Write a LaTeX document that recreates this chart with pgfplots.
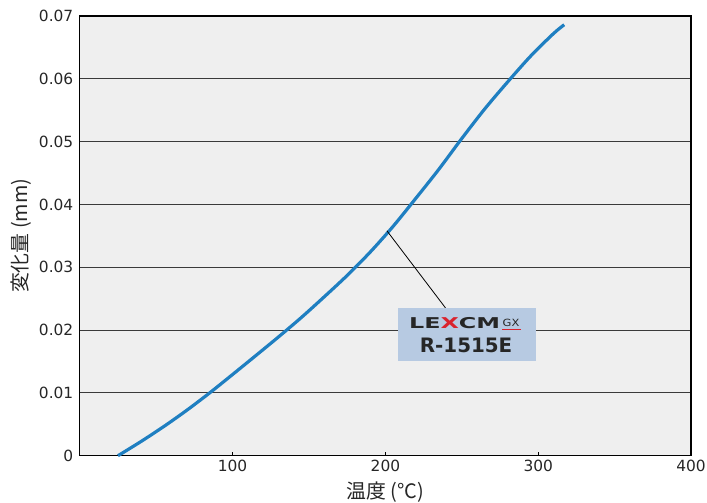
\documentclass[border=0pt]{standalone}
\usepackage{fontspec}
\setmainfont{Noto Sans CJK JP}
\newfontfamily\logofont{DejaVu Sans}
\usepackage{pgfplots}
\pgfplotsset{compat=1.18}
\definecolor{bg}{HTML}{EFEFEF}
\definecolor{curve}{HTML}{1F7FC1}
\definecolor{boxc}{HTML}{B7CAE2}
\definecolor{logored}{HTML}{D9232E}
\definecolor{gridc}{HTML}{3A3A3A}
\begin{document}
\begin{tikzpicture}
\useasboundingbox (-80bp,-47bp) rectangle (629bp,457bp);
\begin{axis}[
  at={(0,0)}, anchor=south west,
  scale only axis, width=613bp, height=441bp,
  xmin=0, xmax=400, ymin=0, ymax=0.07,
  xtick={100,200,300,400},
  ytick={0,0.01,0.02,0.03,0.04,0.05,0.06,0.07},
  yticklabels={0,0.01,0.02,0.03,0.04,0.05,0.06,0.07},
  scaled y ticks=false,
  xtick pos=lower, tick align=inside, major tick length=4bp,
  ytick style={draw=none},
  xtick style={black, line width=0.8bp},
  ymajorgrids, major grid style={gridc, line width=1bp},
  axis background/.style={fill=bg},
  axis line style={black, line width=1.2bp},
  /pgf/number format/assume math mode=true,
  tick label style={font=\logofont\fontsize{15.5}{15.5}\selectfont, text=black!85},
  xticklabel style={yshift=-0.5bp},
  yticklabel style={xshift=-3bp},
  label style={font=\fontsize{20}{20}\selectfont, text=black!85},
  xlabel={温度 (°C)}, ylabel={変化量 (mm)},
  xlabel style={yshift=-3.5bp},
  ylabel style={yshift=1bp},
  clip=false,
]
\addplot[curve, line width=3.2bp, smooth] coordinates {
(25,0) (40,0.00225) (55,0.00465) (70,0.00723) (85,0.0100) (100,0.01293)
(115,0.0159) (130,0.0189) (145,0.0220) (160,0.0253) (175,0.0287)
(190,0.0324) (205,0.0365) (220,0.0410) (235,0.0456) (250,0.0505)
(265,0.0552) (280,0.0595) (295,0.0636) (310,0.0672) (317,0.0686)
};
\draw[black, line width=0.8bp] (axis cs:201,0.0358) -- (axis cs:239.4,0.0235);
\node[fill=boxc, minimum width=138bp, minimum height=53bp, inner sep=0, anchor=north west] (box) at (axis cs:208.1,0.02349) {};
\node[anchor=base, inner sep=0] at ([xshift=57bp,yshift=-20bp]box.north west)
  {\scalebox{1.6}[1]{\logofont\bfseries\fontsize{15}{15}\selectfont\color{black!85}LE\textcolor{logored}{X}CM}};
\node[anchor=base west, inner sep=0] (gx) at ([xshift=105bp,yshift=-18bp]box.north west)
  {\scalebox{1.15}[1]{\logofont\fontsize{10}{10}\selectfont\color{black!85}GX}};
\draw[logored, line width=1.4bp] ([xshift=105bp,yshift=-21.5bp]box.north west) -- ++(19bp,0);
\node[anchor=base, inner sep=0] at ([xshift=68.5bp,yshift=-44bp]box.north west)
  {\logofont\bfseries\fontsize{20}{20}\selectfont\color{black!85}R-1515E};
\end{axis}
\end{tikzpicture}
\end{document}
